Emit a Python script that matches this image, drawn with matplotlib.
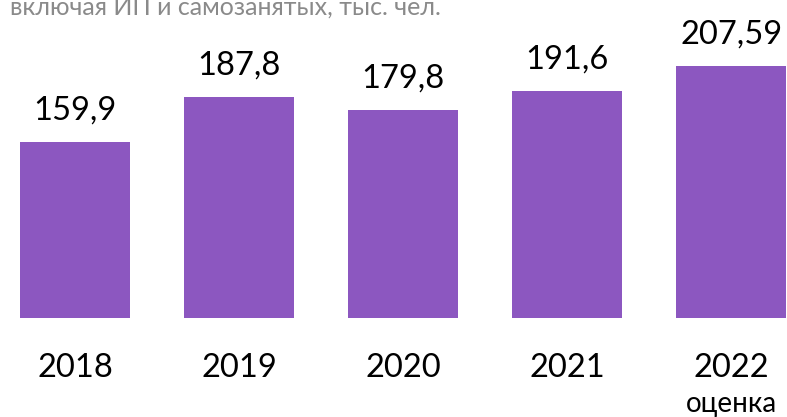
import matplotlib
matplotlib.use("Agg")
import matplotlib.pyplot as plt
import matplotlib.transforms as mtransforms

years = ["2018", "2019", "2020", "2021", "2022"]
values = [159.9, 187.8, 179.8, 191.6, 207.59]
value_labels = ["159,9", "187,8", "179,8", "191,6", "207,59"]
note = "оценка"
subtitle = "включая ИП и самозанятых, тыс. чел."

BAR_COLOR = "#8C57C0"
FONT = ["Lato", "DejaVu Sans"]

fig = plt.figure(figsize=(7.87, 4.17), dpi=100)
ax = fig.add_axes([0, 0.2374, 1, 0.7626])

x = list(range(len(years)))
ax.bar(x, values, width=0.67, color=BAR_COLOR)
ax.set_xlim(-0.457, 4.341)
ax.set_ylim(50, 248.5)

for xi, v, lab in zip(x, values, value_labels):
    ax.annotate(lab, (xi, v), xytext=(0, 16), textcoords="offset points",
                ha="center", va="baseline", fontsize=23.5, family=FONT, color="black")

ax.set_xticks(x)
ax.set_xticklabels(years, fontsize=23.5, family=FONT)
ax.tick_params(axis="x", length=0, pad=25)
ax.set_yticks([])
for s in ax.spines.values():
    s.set_visible(False)

trans = mtransforms.blended_transform_factory(ax.transData, fig.transFigure)
ax.text(4, 1 - 404 / 417, note, transform=trans, ha="center", va="center",
        fontsize=20, family=FONT, color="black")

# subtitle is cut by the top edge in the original
fig.text(10 / 787, 1 - 15 / 417, subtitle, ha="left", va="baseline",
         fontsize=18, family=FONT, color="#8A8A8A")

fig.savefig("out.png", dpi=100)
